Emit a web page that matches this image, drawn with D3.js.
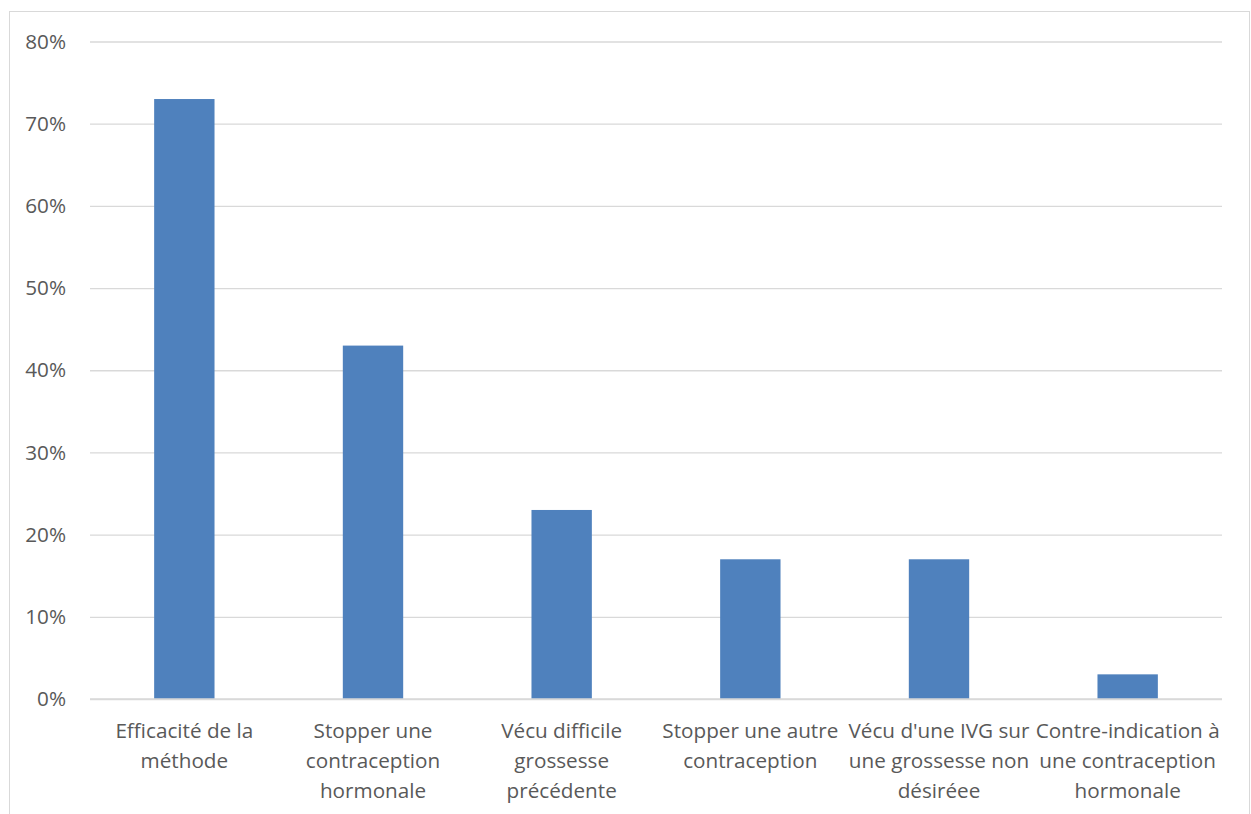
<!DOCTYPE html>
<html>
<head>
<meta charset="utf-8">
<script src="https://cdn.jsdelivr.net/npm/d3@7"></script>
<style>
  body { margin: 0; background: #fff; }
  text { font-family: "Open Sans", Lato, sans-serif; fill: #595959; }
</style>
</head>
<body>
<div id="chart"></div>
<script>
// categories, one entry per line of the tick label
var categories = [
  ["Efficacité de la", "méthode"],
  ["Stopper une", "contraception", "hormonale"],
  ["Vécu difficile", "grossesse", "précédente"],
  ["Stopper une autre", "contraception"],
  ["Vécu d'une IVG sur", "une grossesse non", "désiréee"],
  ["Contre-indication à", "une contraception", "hormonale"]
];
var values = [0.73, 0.43, 0.23, 0.17, 0.17, 0.03];
var yTicks = [0, 0.1, 0.2, 0.3, 0.4, 0.5, 0.6, 0.7, 0.8];

var width = 1251, height = 814;
var plotL = 90, plotR = 1222, plotT = 41.5, plotB = 699;
var fontSize = '20.7px';

var svg = d3.select('#chart').append('svg')
  .attr('width', width)
  .attr('height', height);

// chart frame
svg.append('rect')
  .attr('x', 9.5).attr('y', 11.5)
  .attr('width', 1240).attr('height', 820)
  .attr('fill', 'none')
  .attr('stroke', '#d9d9d9')
  .attr('stroke-width', 1);

var x = d3.scaleBand()
  .domain(d3.range(categories.length))
  .range([plotL, plotR])
  .paddingInner(0.68)
  .paddingOuter(0.34);

var y = d3.scaleLinear()
  .domain([0, 0.8])
  .range([plotB, plotT]);

// gridlines + y labels
var yAxis = d3.axisLeft(y)
  .tickValues(yTicks)
  .tickFormat(d3.format('.0%'))
  .tickSize(-(plotR - plotL))
  .tickPadding(24);

var gy = svg.append('g')
  .attr('transform', 'translate(' + plotL + ',0)')
  .call(yAxis);
gy.select('.domain').remove();
gy.selectAll('line').attr('stroke', '#d9d9d9').attr('stroke-width', 1.3);
gy.selectAll('text')
  .style('font-size', fontSize)
  .style('font-family', '"Open Sans", sans-serif')
  .attr('fill', '#595959');

svg.append('g')
  .selectAll('rect')
  .data(values)
  .enter().append('rect')
    .attr('x', (d, i) => x(i))
    .attr('y', d => y(d))
    .attr('width', x.bandwidth())
    .attr('height', d => plotB - y(d))
    .attr('fill', '#4f81bd');

// base line over the bars
svg.append('line')
  .attr('x1', plotL).attr('x2', plotR)
  .attr('y1', plotB).attr('y2', plotB)
  .attr('stroke', '#d9d9d9').attr('stroke-width', 1.3);

var labels = svg.append('g')
  .selectAll('text')
  .data(categories)
  .enter().append('text')
    .attr('text-anchor', 'middle')
    .attr('x', (d, i) => x(i) + x.bandwidth() / 2)
    .attr('y', 738)
    .style('font-size', fontSize);

labels.selectAll('tspan')
  .data(d => d)
  .enter().append('tspan')
    .attr('x', function() { return this.parentNode.getAttribute('x'); })
    .attr('dy', (d, i) => i === 0 ? 0 : 30)
    .text(d => d);
</script>
</body>
</html>
